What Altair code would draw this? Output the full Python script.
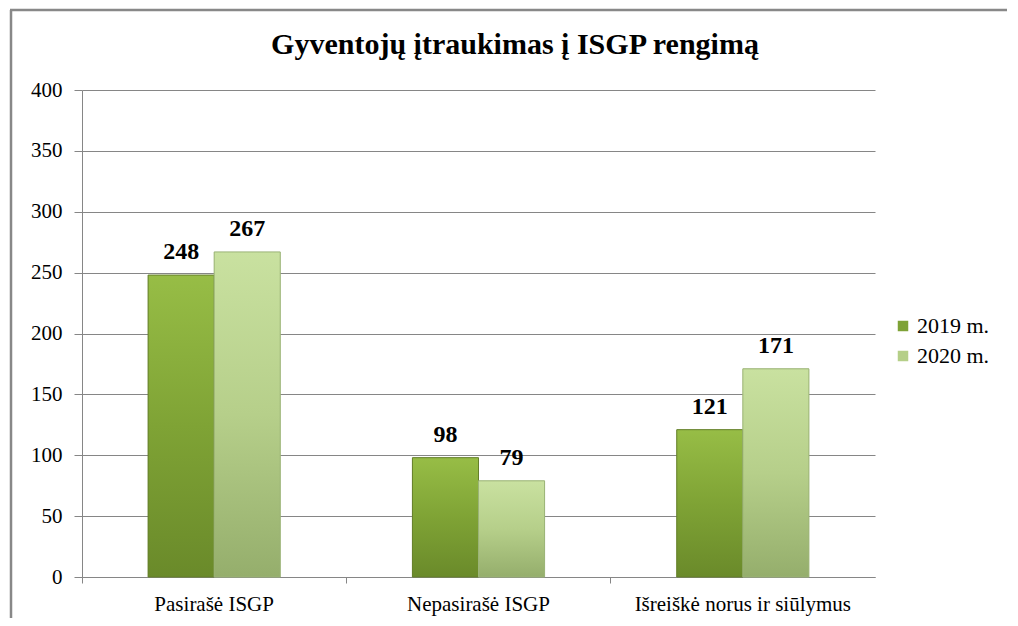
import altair as alt
import pandas as pd

title_text = ["Gyventojų įtraukimas į ISGP rengimą"]
categories = ["Pasirašė ISGP", "Nepasirašė ISGP", "Išreiškė norus ir siūlymus"]
series = ["2019 m.", "2020 m."]
values_2019 = [248, 98, 121]
values_2020 = [267, 79, 171]

rows = []
for c, a, b in zip(categories, values_2019, values_2020):
    rows.append({"cat": c, "series": series[0], "value": a})
    rows.append({"cat": c, "series": series[1], "value": b})
df = pd.DataFrame(rows)

FONT = "Liberation Serif"
W, H = 793, 487

x_enc = alt.X("cat:N", sort=categories, title=None,
              scale=alt.Scale(paddingInner=0, paddingOuter=0),
              axis=alt.Axis(labelAngle=0, labelFont=FONT, labelFontSize=21, labelColor="#000000",
                            labelLimit=400,
                            domainColor="#868686", tickColor="#868686", tickSize=6,
                            bandPosition=0, labelPadding=10, grid=False))
xo_enc = alt.XOffset("series:N", sort=series,
                     scale=alt.Scale(paddingInner=0, paddingOuter=1))
y_enc = alt.Y("value:Q", title=None,
              scale=alt.Scale(domain=[0, 400]),
              axis=alt.Axis(values=list(range(0, 401, 50)), labelFont=FONT, labelFontSize=21,
                            labelColor="#000000", domainColor="#868686", tickColor="#868686",
                            tickSize=8, labelPadding=12, gridColor="#868686", grid=True))

base = alt.Chart(df)

bars = base.mark_bar().encode(
    x=x_enc, xOffset=xo_enc, y=y_enc,
    color=alt.Color("series:N", sort=series,
                    scale=alt.Scale(domain=series, range=["#7ea236", "#b5cf88"]),
                    legend=alt.Legend(title=None, orient="none", legendX=810, legendY=225,
                                      labelFont=FONT, labelFontSize=22, labelColor="#000000",
                                      symbolType="square", symbolSize=110, symbolStrokeWidth=0,
                                      rowPadding=8, labelOffset=3))
)

grad19 = alt.Gradient(gradient="linear", x1=0, y1=0, x2=0, y2=1,
                      stops=[alt.GradientStop(color="#97bd46", offset=0),
                             alt.GradientStop(color="#7fa335", offset=0.5),
                             alt.GradientStop(color="#6a8a2a", offset=1)])
grad20 = alt.Gradient(gradient="linear", x1=0, y1=0, x2=0, y2=1,
                      stops=[alt.GradientStop(color="#c9e1a0", offset=0),
                             alt.GradientStop(color="#b6cf8a", offset=0.5),
                             alt.GradientStop(color="#95ae6c", offset=1)])

ov19 = base.transform_filter(alt.datum.series == series[0]).mark_bar(
    fill=grad19, stroke="#647f2a", strokeWidth=1).encode(x=x_enc, xOffset=xo_enc, y=y_enc)
ov20 = base.transform_filter(alt.datum.series == series[1]).mark_bar(
    fill=grad20, stroke="#9bb377", strokeWidth=1).encode(x=x_enc, xOffset=xo_enc, y=y_enc)

labels = base.mark_text(font=FONT, fontSize=24, fontWeight="bold", baseline="alphabetic",
                        dy=-16, color="#000000").encode(
    x=x_enc, xOffset=xo_enc, y=y_enc, text="value:Q")

title = alt.Chart(pd.DataFrame({"t": title_text})).mark_text(
    font=FONT, fontSize=30, fontWeight="bold", color="#000000", baseline="alphabetic", align="center"
).encode(x=alt.value(433), y=alt.value(-36), text="t:N")

border_top = alt.Chart(pd.DataFrame({"k": [0]})).mark_rule(color="#888888", strokeWidth=2.5).encode(
    x=alt.value(-72), x2=alt.value(925), y=alt.value(-80))
border_left = alt.Chart(pd.DataFrame({"k": [0]})).mark_rule(color="#888888", strokeWidth=2.5).encode(
    x=alt.value(-71), y=alt.value(-80), y2=alt.value(528))

chart = alt.layer(bars, ov19, ov20, labels, title, border_top, border_left).properties(
    width=W, height=H,
    padding={"left": 0, "top": 0, "right": 0, "bottom": 0},
).configure(background="white", font=FONT).configure_axis(
    labelFont=FONT).configure_legend(labelFont=FONT).configure_view(stroke=None)

chart.save("out.html", embed_options={"renderer": "svg", "actions": False})
